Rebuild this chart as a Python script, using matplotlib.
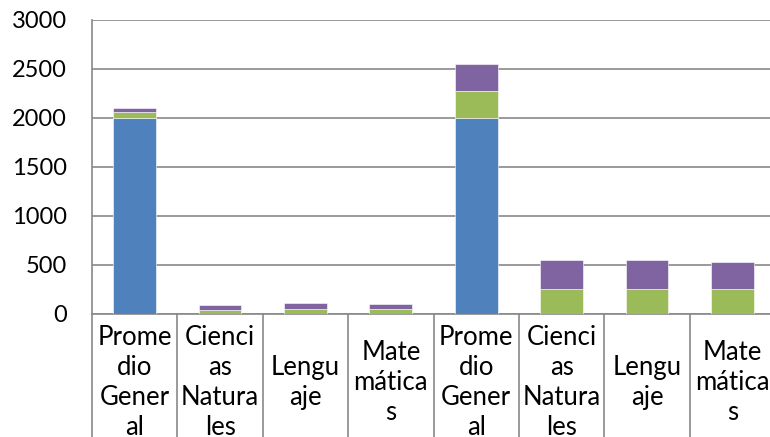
import numpy as np
import matplotlib.pyplot as plt

# categorías del eje x (dos grupos de cuatro)
categorias = ["Prome\ndio\nGener\nal", "Cienci\nas\nNatura\nles", "Lengu\naje", "Mate\nmática\ns",
              "Prome\ndio\nGener\nal", "Cienci\nas\nNatura\nles", "Lengu\naje", "Mate\nmática\ns"]

serie1 = [2000, 0, 0, 0, 2000, 0, 0, 0]
serie3 = [58, 43, 53, 50, 272, 260, 260, 256]
serie4 = [48, 51, 54, 48, 278, 290, 290, 275]

plt.rcParams['font.family'] = ['Lato', 'DejaVu Sans']
gris = '#898989'

fig = plt.figure(figsize=(7.7, 4.37), dpi=100)
ax = fig.add_axes([0.1195, 0.2815, 0.887, 0.6728])

x = np.arange(len(categorias))
ancho = 0.5
base = np.zeros(len(categorias))
for valores, color in [(serie1, '#4F81BD'), (serie3, '#9BBB59'), (serie4, '#8064A2')]:
    ax.bar(x, valores, ancho, bottom=base, color=color, edgecolor='white', linewidth=0.4, zorder=3)
    base = base + np.array(valores)

ax.set_xlim(-0.5, len(categorias) - 0.5)
ax.set_ylim(0, 3000)
ax.set_yticks(range(0, 3001, 500))
ax.yaxis.grid(True, color=gris, linewidth=1.2, zorder=0)
ax.tick_params(axis='y', length=0, pad=18, labelsize=17, labelcolor='black')

# etiquetas centradas dentro de cada casilla
ax.set_xticks(x)
ax.set_xticklabels(categorias, fontsize=18.5, va='center', linespacing=1.25)
ax.tick_params(axis='x', which='major', length=0, pad=49)
# separadores verticales entre categorías
ax.set_xticks(np.arange(-0.5, len(categorias)), minor=True)
ax.tick_params(axis='x', which='minor', length=100, width=1.2, color=gris, direction='out')

for lado in ['top', 'right']:
    ax.spines[lado].set_visible(False)
for lado in ['left', 'bottom']:
    ax.spines[lado].set_color(gris)
    ax.spines[lado].set_linewidth(1.2)

fig.savefig('out.png', dpi=100)
